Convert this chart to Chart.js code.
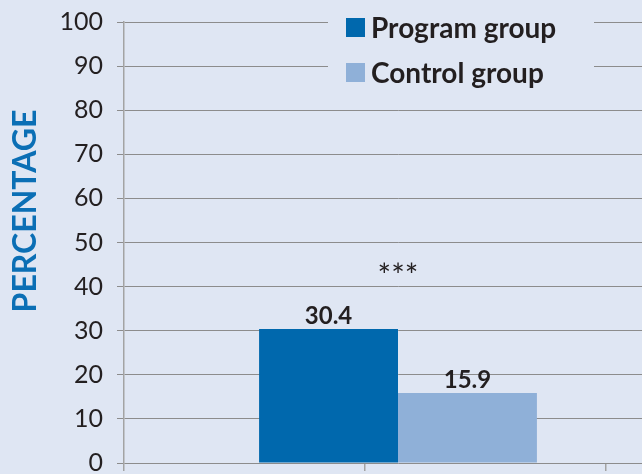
<!DOCTYPE html>
<html>
<head>
<meta charset="utf-8">
<script src="https://cdn.jsdelivr.net/npm/chart.js@4.4.1/dist/chart.umd.min.js"></script>
<style>
  html, body { margin: 0; padding: 0; background: #dfe6f3; overflow: hidden; }
  #wrap { width: 642px; height: 474px; overflow: hidden; }
</style>
</head>
<body>
<div id="wrap"><canvas id="chart" width="672" height="474"></canvas></div>
<script>
// values
const groups = ["Program group", "Control group"];
const percentages = [30.4, 15.9];
const groupColors = ["#0068ad", "#8fb0d8"];
const significance = "***";
const yTicks = [0, 10, 20, 30, 40, 50, 60, 70, 80, 90, 100];
const yTitle = "PERCENTAGE";

const ink = "#231f20";

// value labels above each bar + the stars over the pair
const barValues = {
    id: "barValues",
    afterDatasetsDraw(chart) {
        const ctx = chart.ctx;
        let xs = [];
        let top = Infinity;
        ctx.save();
        ctx.font = "bold 24px Lato";
        ctx.fillStyle = ink;
        ctx.textAlign = "center";
        ctx.textBaseline = "alphabetic";
        chart.data.datasets.forEach((ds, i) => {
            chart.getDatasetMeta(i).data.forEach((bar, j) => {
                ctx.fillText(ds.data[j].toFixed(1), bar.x, bar.y - 5);
                xs.push(bar.x);
                top = Math.min(top, bar.y);
            });
        });
        ctx.font = "32px Lato";
        ctx.textBaseline = "middle";
        const cx = xs.reduce((a, b) => a + b, 0) / xs.length;
        ctx.fillText(significance, cx, top - 52);
        ctx.restore();
    },
};

// legend sitting on its own patch of background over the top gridlines
const boxLegend = {
    id: "boxLegend",
    afterDraw(chart) {
        const ctx = chart.ctx;
        ctx.save();
        ctx.fillStyle = "#dfe6f3";
        ctx.fillRect(328, 0, 266, 92);
        ctx.font = "bold 28px Lato";
        ctx.textBaseline = "middle";
        ctx.textAlign = "left";
        chart.data.datasets.forEach((ds, i) => {
            const y = 27.5 + i * 45;
            ctx.fillStyle = ds.backgroundColor;
            ctx.fillRect(346, y - 9.5, 19, 19);
            ctx.fillStyle = ink;
            ctx.fillText(ds.label, 371, y + 1);
        });
        ctx.restore();
    },
};

const yTitlePlugin = {
    id: "yTitlePlugin",
    afterDraw(chart) {
        const ctx = chart.ctx;
        ctx.save();
        ctx.translate(25, 211);
        ctx.rotate(-Math.PI / 2);
        ctx.font = "bold 32px Lato";
        ctx.fillStyle = "#0b6fb5";
        ctx.textAlign = "center";
        ctx.textBaseline = "middle";
        ctx.fillText(yTitle, 0, 1);
        ctx.restore();
    },
};

const ctx = document.getElementById("chart").getContext("2d");

new Chart(ctx, {
    type: "bar",
    data: {
        labels: [""],
        datasets: groups.map((g, i) => ({
            label: g,
            data: [percentages[i]],
            backgroundColor: groupColors[i],
            borderWidth: 0,
            barPercentage: 1,
            categoryPercentage: 0.507,
        })),
    },
    options: {
        responsive: false,
        animation: false,
        layout: { padding: { top: 22, left: 0, right: 0, bottom: 0 } },
        plugins: {
            legend: { display: false },
            tooltip: { enabled: false },
        },
        scales: {
            x: {
                display: false,
            },
            xt: {
                type: "linear",
                position: "bottom",
                offset: false,
                min: 0,
                max: 100,
                afterBuildTicks: (s) => {
                    s.ticks = [0, 44, 88].map((v) => ({ value: v }));
                },
                ticks: { display: false },
                grid: { offset: false, drawOnChartArea: false, tickLength: 8, color: "#a3a3a3", lineWidth: 1.5 },
                border: { display: false },
                afterFit: (s) => {
                    s.height = 11;
                },
            },
            y: {
                min: 0,
                max: 100,
                afterBuildTicks: (s) => {
                    s.ticks = yTicks.map((v) => ({ value: v }));
                },
                ticks: {
                    font: { family: "Lato", size: 25, weight: "normal" },
                    color: ink,
                    padding: 14,
                },
                grid: { color: "#8c8c8c", lineWidth: 1, tickLength: 7 },
                border: { color: "#a3a3a3", width: 1.5 },
                afterFit: (s) => {
                    s.width = 124;
                    s.paddingTop = 10;
                    s.paddingBottom = 0;
                },
            },
        },
    },
    plugins: [barValues, boxLegend, yTitlePlugin],
});
</script>
</body>
</html>
